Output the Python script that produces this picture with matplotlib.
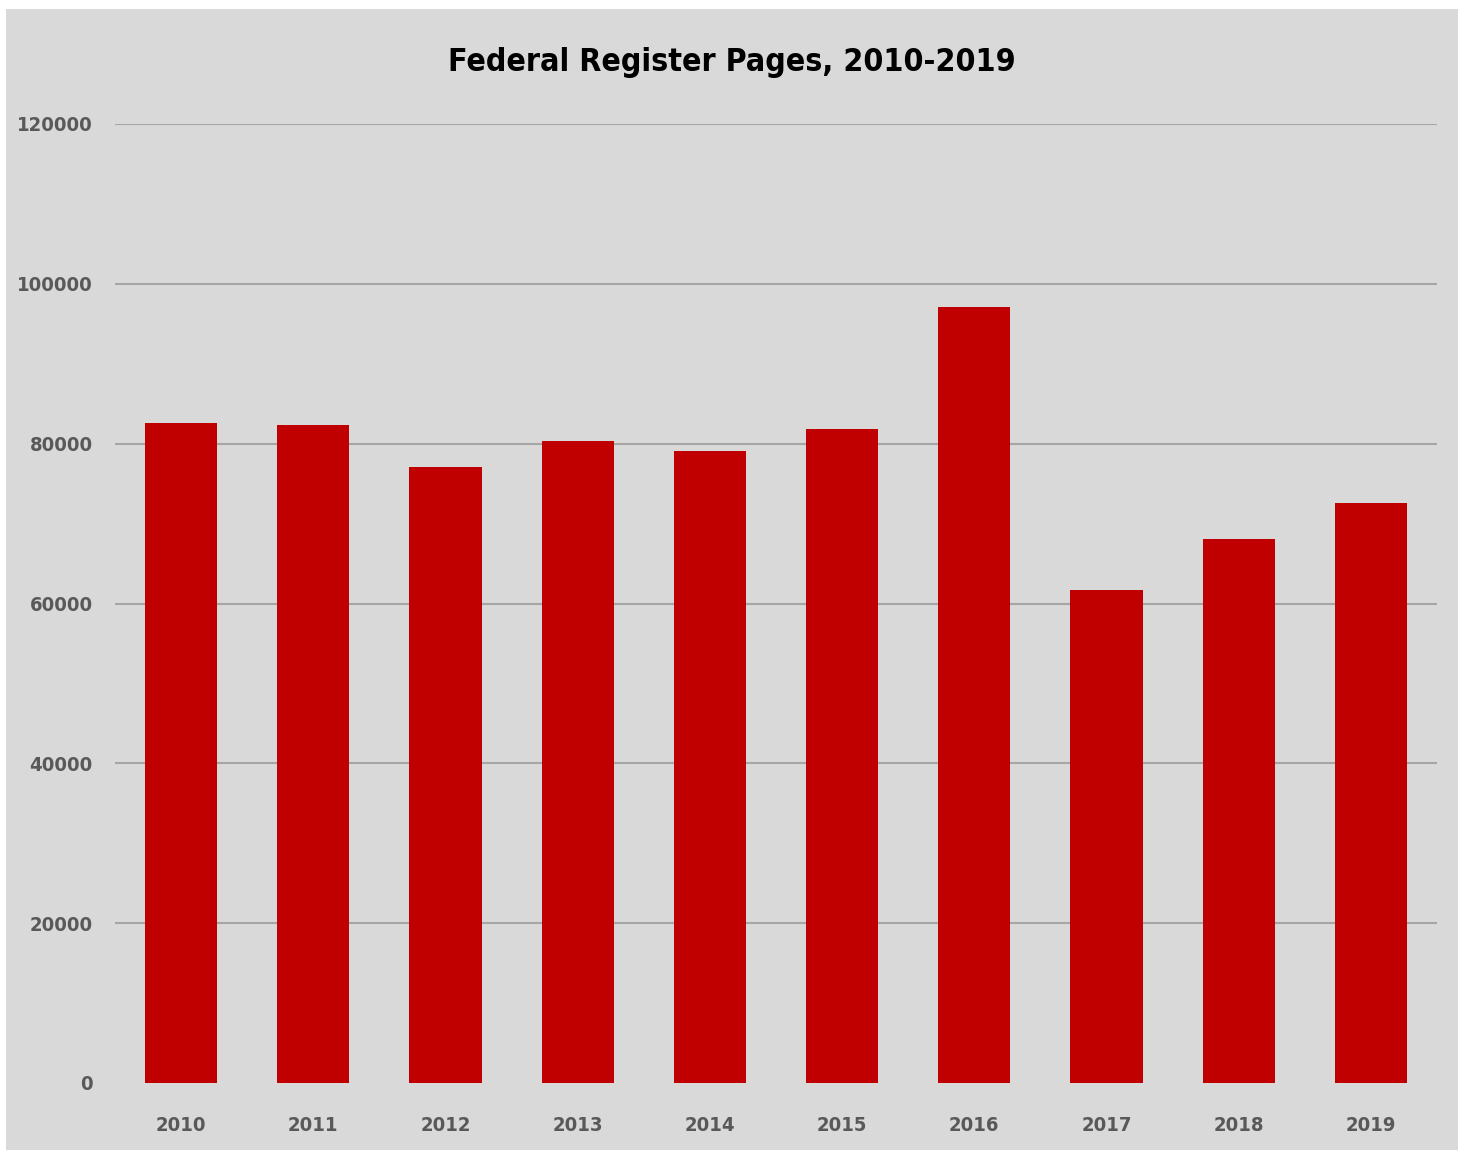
import matplotlib
matplotlib.use("Agg")
import matplotlib.pyplot as plt
from matplotlib.patches import Rectangle

# datos
years = ['2010', '2011', '2012', '2013', '2014', '2015', '2016', '2017', '2018', '2019']
pages = [82590, 82340, 77080, 80330, 79080, 81830, 97100, 61690, 68070, 72580]
yticks = [0, 20000, 40000, 60000, 80000, 100000, 120000]

plt.rcParams['font.family'] = ['DejaVu Sans']
plt.rcParams['font.stretch'] = 'condensed'

fig = plt.figure(figsize=(14.65, 11.57), dpi=100, facecolor='white')
# panel gris de fondo
fig.patches.append(Rectangle((6 / 1465, 7 / 1157), 1452 / 1465, 1141 / 1157,
                             transform=fig.transFigure, facecolor='#d9d9d9',
                             edgecolor='none', zorder=-10))

ax = fig.add_axes([115 / 1465, 1 - 1083 / 1157, (1437 - 115) / 1465, (1083 - 124) / 1157])
ax.set_facecolor('none')

x = range(len(years))
ax.bar(x, pages, width=0.545, color='#c00000', zorder=3)

ax.set_xlim(-0.5, len(years) - 0.5)
ax.set_ylim(0, 120000)
ax.set_yticks(yticks)
ax.set_yticklabels([str(v) for v in yticks])
ax.set_xticks(list(x))
ax.set_xticklabels(years)

ax.grid(axis='y', color='#a6a6a6', linewidth=1.5, zorder=1)
ax.get_ygridlines()[0].set_visible(False)  # sin linea en el cero
for s in ax.spines.values():
    s.set_visible(False)
ax.tick_params(axis='both', length=0, labelsize=14.5, labelcolor='#595959')
ax.tick_params(axis='y', pad=16)
ax.tick_params(axis='x', pad=24)
for lbl in ax.get_xticklabels() + ax.get_yticklabels():
    lbl.set_fontweight('bold')

fig.text(732 / 1465, 1 - 62 / 1157, 'Federal Register Pages, 2010-2019',
         ha='center', va='center', fontsize=23, fontweight='bold', color='black')

fig.savefig('out.png', dpi=100, facecolor='white')
